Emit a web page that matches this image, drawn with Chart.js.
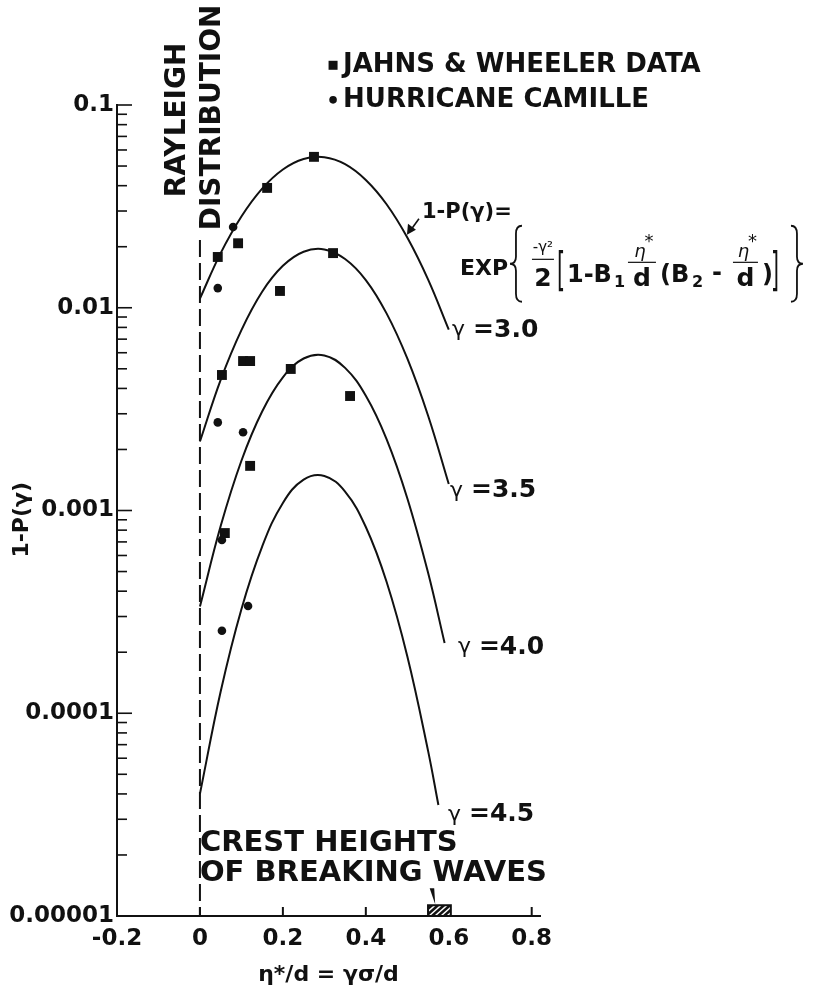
<!DOCTYPE html>
<html lang="en">
<head>
  <meta charset="UTF-8">
  <title>Crest height exceedance</title>
  <style>
    html, body { margin: 0; padding: 0; background: #fff; }
    canvas { display: block; }
  </style>
</head>
<body>
  <canvas id="chart" width="831" height="999"></canvas>

  <script src="https://cdn.jsdelivr.net/npm/chart.js"></script>
  <script>
    // curves, one per gamma
    const curve30X = [0, 0.05, 0.1, 0.15, 0.2, 0.25, 0.3, 0.35, 0.4, 0.45, 0.5, 0.55, 0.6];
    const curve30Y = [0.0111, 0.0186, 0.0282, 0.0387, 0.0481, 0.0542, 0.0553, 0.0511, 0.0427, 0.0324, 0.0222, 0.0138, 0.0078];
    const curve35X = [0, 0.05, 0.1, 0.15, 0.2, 0.25, 0.3, 0.35, 0.4, 0.45, 0.5, 0.55, 0.6];
    const curve35Y = [0.00219, 0.00441, 0.00776, 0.0120, 0.0161, 0.0189, 0.0194, 0.0174, 0.0137, 0.00938, 0.00562, 0.00294, 0.00135];
    const curve40X = [0, 0.05, 0.1, 0.15, 0.2, 0.25, 0.3, 0.35, 0.4, 0.45, 0.5, 0.55, 0.59];
    const curve40Y = [0.000336, 0.000838, 0.00176, 0.00308, 0.00454, 0.00562, 0.00582, 0.00505, 0.00368, 0.00225, 0.00115, 0.000494, 0.000222];
    const curve45X = [0, 0.05, 0.1, 0.15, 0.2, 0.25, 0.3, 0.35, 0.4, 0.45, 0.5, 0.55, 0.575];
    const curve45Y = [0.0000401, 0.000128, 0.000326, 0.000664, 0.00109, 0.00142, 0.00148, 0.00124, 0.000829, 0.000445, 0.000191, 0.0000654, 0.0000353];

    // measured points
    const jahnsX = [0.275, 0.162, 0.092, 0.043, 0.321, 0.193, 0.104, 0.121, 0.053, 0.219, 0.362, 0.121, 0.060];
    const jahnsY = [0.0555, 0.0390, 0.0208, 0.0178, 0.0186, 0.0121, 0.00546, 0.00546, 0.00466, 0.00499, 0.00367, 0.00166, 0.000774];
    const camilleX = [0.080, 0.043, 0.043, 0.104, 0.053, 0.116, 0.053];
    const camilleY = [0.0250, 0.0125, 0.00272, 0.00243, 0.000716, 0.000338, 0.000255];

    // Rayleigh line (eta*/d = 0)
    const rayleighX = [0, 0];
    const rayleighY = [0.0216, 0.00001];

    // breaking wave crest band
    const crestBand = [0.55, 0.605];

    const xTicks = [-0.2, 0, 0.2, 0.4, 0.6, 0.8];
    const xTickLabels = ['-0.2', '0', '0.2', '0.4', '0.6', '0.8'];
    const yTicks = [0.1, 0.01, 0.001, 0.0001, 0.00001];
    const yTickLabels = ['0.1', '0.01', '0.001', '0.0001', '0.00001'];

    const gammaLabels = ['3.0', '3.5', '4.0', '4.5'];

    const ink = '#111';
    const fam = "'DejaVu Sans', sans-serif";
    const bold = s => 'bold ' + s + 'px ' + fam;
    const reg = s => s + 'px ' + fam;

    function pts(xs, ys) {
      return xs.map((v, i) => ({ x: v, y: ys[i] }));
    }

    function curve(xs, ys) {
      return {
        data: pts(xs, ys),
        showLine: true,
        borderColor: ink,
        borderWidth: 2,
        pointRadius: 0,
        tension: 0.4,
        fill: false
      };
    }

    // stretched glyph for brackets
    function glyph(ctx, ch, x, y, size, sx) {
      ctx.save();
      ctx.font = reg(size);
      ctx.translate(x, y);
      ctx.scale(sx, 1);
      ctx.fillText(ch, 0, 0);
      ctx.restore();
    }

    // thin curly brace, open = '{'
    function brace(ctx, x, top, bot, w, open) {
      const mid = (top + bot) / 2;
      const xe = open ? x + w : x;
      const xm = x + w / 2;
      const xt = open ? x : x + w;
      ctx.beginPath();
      ctx.moveTo(xe, top);
      ctx.quadraticCurveTo(xm, top, xm, top + 8);
      ctx.lineTo(xm, mid - 7);
      ctx.quadraticCurveTo(xm, mid, xt, mid);
      ctx.quadraticCurveTo(xm, mid, xm, mid + 7);
      ctx.lineTo(xm, bot - 8);
      ctx.quadraticCurveTo(xm, bot, xe, bot);
      ctx.stroke();
    }

    // text, ticks, hatched band and the formula
    const overlay = {
      id: 'overlay',
      afterDraw(chart) {
        const { ctx, chartArea: ca, scales: { x, y } } = chart;
        const X = v => x.getPixelForValue(v);
        const Y = v => y.getPixelForValue(v);
        ctx.save();
        ctx.fillStyle = ink;
        ctx.strokeStyle = ink;

        // inward tick marks
        ctx.lineWidth = 2;
        xTicks.forEach(v => {
          const px = X(v);
          ctx.beginPath();
          ctx.moveTo(px, ca.bottom);
          ctx.lineTo(px, ca.bottom - 9);
          ctx.stroke();
        });
        ctx.lineWidth = 1.6;
        for (let e = -5; e <= -1; e++) {
          for (let m = 1; m <= 9; m++) {
            const v = m * Math.pow(10, e);
            if (v > 0.1001) break;
            const py = Y(v);
            ctx.beginPath();
            ctx.moveTo(ca.left, py);
            ctx.lineTo(ca.left + (m === 1 ? 15 : 10), py);
            ctx.stroke();
          }
        }

        ctx.textBaseline = 'middle';
        ctx.textAlign = 'left';

        // legend
        const lx = X(0.345);
        ctx.font = bold(26);
        ctx.fillText('JAHNS & WHEELER DATA', lx, Y(0.157));
        ctx.fillText('HURRICANE CAMILLE', lx, Y(0.106));
        ctx.fillRect(X(0.321) - 4.5, Y(0.157) - 4.5, 9, 9);
        ctx.beginPath();
        ctx.arc(X(0.321), Y(0.106), 3.8, 0, Math.PI * 2);
        ctx.fill();

        // rotated labels along the Rayleigh line
        ctx.font = bold(28);
        [['RAYLEIGH', -0.053, 0.0351], ['DISTRIBUTION', 0.03, 0.0241]].forEach(([t, xv, yv]) => {
          ctx.save();
          ctx.translate(X(xv), Y(yv));
          ctx.rotate(-Math.PI / 2);
          ctx.fillText(t, 0, 0);
          ctx.restore();
        });

        // y title
        ctx.save();
        ctx.font = bold(22);
        ctx.textAlign = 'center';
        ctx.translate(22, Y(0.0009));
        ctx.rotate(-Math.PI / 2);
        ctx.fillText('1-P(\u03b3)', 0, 0);
        ctx.restore();

        // gamma labels
        const gPos = [[0.608, 0.00776], [0.603, 0.00125], [0.622, 0.000212], [0.598, 0.0000315]];
        gammaLabels.forEach((g, i) => {
          const px = X(gPos[i][0]), py = Y(gPos[i][1]);
          ctx.font = reg(22);
          ctx.fillText('\u03b3', px, py);
          const w = ctx.measureText('\u03b3').width + 8;
          ctx.font = bold(25);
          ctx.fillText('=' + g, px + w, py);
        });

        // crest heights note
        ctx.font = bold(29);
        ctx.fillText('CREST HEIGHTS', X(0.0), Y(0.0000229));
        ctx.fillText('OF BREAKING WAVES', X(0.0), Y(0.0000162));

        // hatched band
        const bx0 = X(crestBand[0]), bx1 = X(crestBand[1]);
        const by0 = Y(0.0000113), by1 = ca.bottom;
        ctx.fillStyle = '#fff';
        ctx.fillRect(bx0, by0, bx1 - bx0, by1 - by0);
        ctx.fillStyle = ink;
        ctx.lineWidth = 2;
        ctx.strokeRect(bx0, by0, bx1 - bx0, by1 - by0);
        ctx.save();
        ctx.beginPath();
        ctx.rect(bx0, by0, bx1 - bx0, by1 - by0);
        ctx.clip();
        ctx.lineWidth = 2.5;
        for (let k = bx0 - 20; k < bx1 + 20; k += 6) {
          ctx.beginPath();
          ctx.moveTo(k, by1);
          ctx.lineTo(k + 12, by0);
          ctx.stroke();
        }
        ctx.restore();
        // pointer above band
        const pxp = X(0.56);
        ctx.beginPath();
        ctx.moveTo(pxp - 2.5, by0 - 17);
        ctx.lineTo(pxp + 2, by0 - 17);
        ctx.lineTo(pxp + 3, by0 - 1);
        ctx.closePath();
        ctx.fill();

        // formula, laid out from the EXP anchor
        const fx = X(0.627), fy = Y(0.0154);
        ctx.font = bold(21);
        ctx.fillText('1-P(\u03b3)=', fx - 38, fy - 57);
        // arrow to the gamma 3.0 curve
        ctx.lineWidth = 1.6;
        ctx.beginPath();
        ctx.moveTo(fx - 41, fy - 51);
        ctx.lineTo(fx - 49, fy - 40);
        ctx.stroke();
        ctx.beginPath();
        ctx.moveTo(fx - 53, fy - 35);
        ctx.lineTo(fx - 52, fy - 46);
        ctx.lineTo(fx - 44, fy - 40);
        ctx.closePath();
        ctx.fill();

        ctx.font = bold(22);
        ctx.fillText('EXP', fx, fy);
        ctx.lineWidth = 1.8;
        brace(ctx, fx + 50, fy - 44, fy + 32, 12, true);

        // -gamma^2 / 2
        ctx.textAlign = 'center';
        ctx.font = reg(15);
        ctx.fillText('-\u03b3\u00b2', fx + 83, fy - 22);
        ctx.fillRect(fx + 72, fy - 11, 22, 1.2);
        ctx.font = bold(25);
        ctx.fillText('2', fx + 83, fy + 10);
        ctx.textAlign = 'left';
        glyph(ctx, '[', fx + 97, fy + 3, 46, 0.45);

        ctx.font = bold(24);
        ctx.fillText('1-B', fx + 107, fy + 6);
        ctx.font = bold(16);
        ctx.fillText('1', fx + 154, fy + 13);

        const etaFrac = (x0, wd) => {
          ctx.textAlign = 'center';
          ctx.font = 'italic ' + reg(18);
          ctx.fillText('\u03b7', x0 + wd / 2 - 2, fy - 17);
          ctx.font = reg(18);
          ctx.fillText('*', x0 + wd / 2 + 7, fy - 27);
          ctx.fillRect(x0, fy - 8, wd, 1.2);
          ctx.font = bold(25);
          ctx.fillText('d', x0 + wd / 2, fy + 10);
          ctx.textAlign = 'left';
        };
        etaFrac(fx + 168, 28);

        ctx.font = bold(24);
        ctx.fillText('(B', fx + 200, fy + 6);
        ctx.font = bold(16);
        ctx.fillText('2', fx + 232, fy + 13);
        ctx.font = bold(24);
        ctx.fillText('-', fx + 252, fy + 4);
        etaFrac(fx + 273, 25);
        ctx.font = bold(24);
        ctx.fillText(')', fx + 302, fy + 6);
        glyph(ctx, ']', fx + 311, fy + 3, 46, 0.45);
        brace(ctx, fx + 331, fy - 44, fy + 32, 12, false);

        ctx.restore();
      }
    };

    const ctx = document.getElementById('chart').getContext('2d');
    new Chart(ctx, {
      type: 'scatter',
      data: {
        datasets: [
          curve(curve30X, curve30Y),
          curve(curve35X, curve35Y),
          curve(curve40X, curve40Y),
          curve(curve45X, curve45Y),
          {
            data: pts(rayleighX, rayleighY),
            showLine: true,
            borderColor: ink,
            borderWidth: 2,
            borderDash: [17, 6],
            pointRadius: 0
          },
          {
            data: pts(jahnsX, jahnsY),
            pointStyle: 'rect',
            pointRadius: 7,
            backgroundColor: ink,
            borderColor: ink,
            borderWidth: 0
          },
          {
            data: pts(camilleX, camilleY),
            pointStyle: 'circle',
            pointRadius: 4.3,
            backgroundColor: ink,
            borderColor: ink,
            borderWidth: 0
          }
        ]
      },
      options: {
        responsive: false,
        animation: false,
        layout: { padding: { top: 105, right: 291, left: 0, bottom: 0 } },
        plugins: { legend: { display: false }, tooltip: { enabled: false } },
        scales: {
          x: {
            type: 'linear',
            min: -0.2,
            max: 0.82,
            afterBuildTicks: s => { s.ticks = xTicks.map(v => ({ value: v })); },
            afterFit: s => { s.height = 83; },
            grid: { display: true, drawOnChartArea: false, drawTicks: false },
            border: { display: true, color: ink, width: 2 },
            ticks: {
              autoSkip: false,
              maxRotation: 0,
              padding: 9,
              color: ink,
              font: { family: fam, size: 23, weight: 'bold' },
              callback: v => xTickLabels[xTicks.indexOf(v)]
            },
            title: {
              display: true,
              text: '\u03b7*/d = \u03b3\u03c3/d',
              color: ink,
              font: { family: fam, size: 22, weight: 'bold' },
              padding: { top: 0, bottom: 11 }
            }
          },
          y: {
            type: 'logarithmic',
            min: 0.00001,
            max: 0.1,
            afterBuildTicks: s => { s.ticks = yTicks.map(v => ({ value: v })); },
            afterFit: s => { s.width = 117; },
            grid: { display: true, drawOnChartArea: false, drawTicks: false },
            border: { display: true, color: ink, width: 2 },
            ticks: {
              autoSkip: false,
              padding: 3,
              color: ink,
              font: { family: fam, size: 23, weight: 'bold' },
              callback: v => yTickLabels[yTicks.indexOf(v)]
            }
          }
        }
      },
      plugins: [overlay]
    });
  </script>
</body>
</html>
